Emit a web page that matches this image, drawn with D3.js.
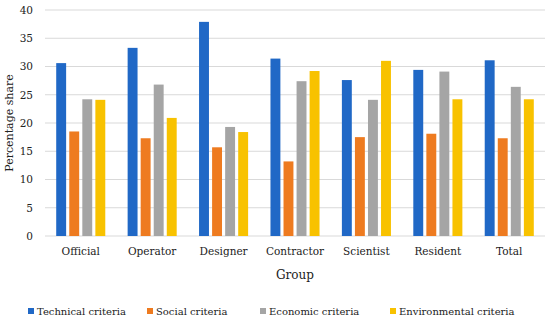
<!DOCTYPE html>
<html><head><meta charset="utf-8">
<script src="https://cdn.jsdelivr.net/npm/d3@7"></script>
<style>body{margin:0;background:#fff}svg{display:block}</style>
</head><body><svg id="c" width="550" height="322"></svg>
<script>
const categories = ["Official","Operator","Designer","Contractor","Scientist","Resident","Total"];
const seriesNames = ["Technical criteria","Social criteria","Economic criteria","Environmental criteria"];
const technical = [30.6,33.3,37.9,31.4,27.6,29.4,31.1];
const social = [18.5,17.3,15.7,13.2,17.5,18.1,17.3];
const economic = [24.2,26.8,19.3,27.4,24.1,29.1,26.4];
const environmental = [24.1,20.9,18.4,29.2,31.0,24.2,24.2];
const yTicks = [0,5,10,15,20,25,30,35,40];
const colors = ["#2068C6","#EE7B20","#A5A5A5","#F8C200"];

const FONT = "'DejaVu Serif', 'Liberation Serif', serif";
const series = [technical, social, economic, environmental];
const svg = d3.select("#c");
const m = {l:45, r:5, t:10, b:86};
const W = 550, H = 322;
const x0 = d3.scaleBand().domain(categories).range([m.l, W - m.r]).paddingInner(0.313).paddingOuter(0.157);
const x1 = d3.scaleBand().domain(d3.range(4)).range([0, x0.bandwidth()]).paddingInner(0.24);
const y = d3.scaleLinear().domain([0,40]).range([H - m.b, m.t]);

svg.append("g").selectAll("line").data(yTicks).join("line")
  .attr("x1", m.l).attr("x2", W - m.r)
  .attr("y1", d => y(d)).attr("y2", d => y(d))
  .attr("stroke", "#d9d9d9").attr("stroke-width", 1);

const yAxis = d3.axisLeft(y).tickValues(yTicks).tickSize(0).tickPadding(12);
const ya = svg.append("g").attr("transform", `translate(${m.l},0)`).call(yAxis);
ya.attr("font-family", null);
ya.select(".domain").remove();
ya.selectAll("text").attr("fill","#222").style("font-family", FONT).style("font-size","10.5px");

categories.forEach((c, i) => {
  svg.append("g").selectAll("rect").data(series.map((s, k) => ({k, v: s[i]}))).join("rect")
    .attr("x", d => x0(c) + x1(d.k))
    .attr("width", x1.bandwidth())
    .attr("y", d => y(d.v))
    .attr("height", d => y(0) - y(d.v))
    .attr("fill", d => colors[d.k]);
});

const xAxis = d3.axisBottom(x0).tickSize(0).tickPadding(12);
const xa = svg.append("g").attr("transform", `translate(0,${y(0)})`).call(xAxis);
xa.attr("font-family", null);
xa.select(".domain").remove();
xa.selectAll("text").attr("fill","#222").style("font-family", FONT).style("font-size","10.5px");

svg.append("text").attr("x", (m.l + W - m.r)/2).attr("y", 279)
  .attr("text-anchor","middle").attr("fill","#222").style("font-family", FONT).style("font-size","12px").text("Group");
svg.append("text").attr("transform","translate(13,123) rotate(-90)")
  .attr("text-anchor","middle").attr("fill","#222").style("font-family", FONT).style("font-size","11px").text("Percentage share");

const legX = [28, 147, 260, 390];
const leg = svg.append("g");
seriesNames.forEach((n, k) => {
  leg.append("rect").attr("x", legX[k]).attr("y", 308).attr("width", 6).attr("height", 6).attr("fill", colors[k]);
  leg.append("text").attr("x", legX[k] + 9).attr("y", 315).attr("fill","#222")
    .style("font-family", FONT).style("font-size","10px").text(n);
});
</script></body></html>
